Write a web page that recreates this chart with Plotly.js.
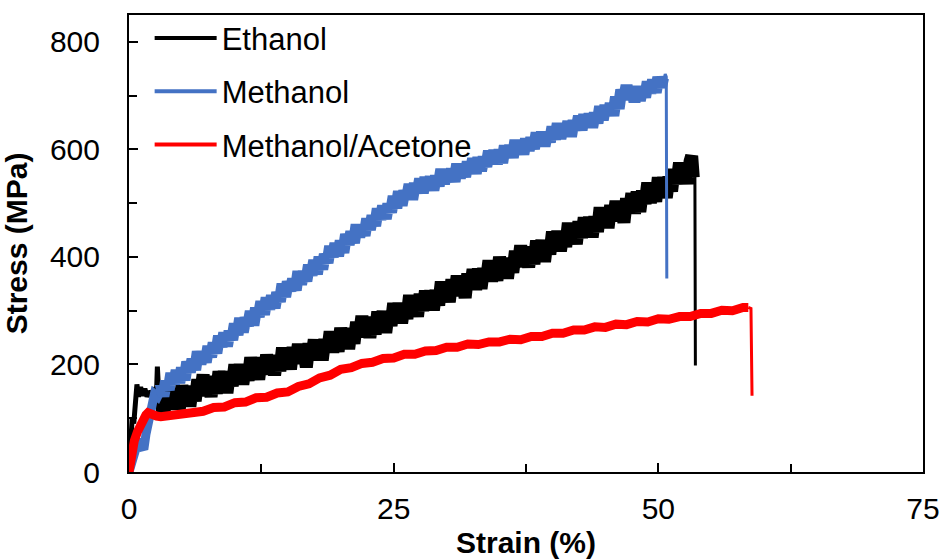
<!DOCTYPE html>
<html>
<head>
<meta charset="utf-8">
<script src="https://cdn.plot.ly/plotly-3.0.1.min.js"></script>
<style>
html,body{margin:0;padding:0;background:#fff;}
#chart{width:943px;height:560px;}
</style>
</head>
<body>
<div id="chart"></div>
<script>
// ---- Data (strain %, stress MPa) ----
var seriesNames = ["Ethanol", "Methanol", "Methanol/Acetone"];

// Ethanol: initial loading region, main noisy curve, failure drop
var ethanolInitStrain = [0,0.15,0.3,0.45,0.6,0.75,0.9,1.1,1.3,1.5,1.7,1.9,2.1,2.3,2.5,2.62,2.68,2.74,2.85,3.0];
var ethanolInitStress = [0,55,100,90,150,163,140,158,142,155,140,150,145,152,148,160,196,150,130,140];
var ethanolStrain = [3.00,3.25,3.50,3.75,4.00,4.25,4.50,4.75,5.00,5.25,5.50,5.75,6.00,6.25,6.50,6.75,7.00,7.25,7.50,7.75,
8.00,8.25,8.50,8.75,9.00,9.25,9.50,9.75,10.00,10.25,10.50,10.75,11.00,11.25,11.50,11.75,12.00,12.25,12.50,12.75,
13.00,13.25,13.50,13.75,14.00,14.25,14.50,14.75,15.00,15.25,15.50,15.75,16.00,16.25,16.50,16.75,17.00,17.25,17.50,17.75,
18.00,18.25,18.50,18.75,19.00,19.25,19.50,19.75,20.00,20.25,20.50,20.75,21.00,21.25,21.50,21.75,22.00,22.25,22.50,22.75,
23.00,23.25,23.50,23.75,24.00,24.25,24.50,24.75,25.00,25.25,25.50,25.75,26.00,26.25,26.50,26.75,27.00,27.25,27.50,27.75,
28.00,28.25,28.50,28.75,29.00,29.25,29.50,29.75,30.00,30.25,30.50,30.75,31.00,31.25,31.50,31.75,32.00,32.25,32.50,32.75,
33.00,33.25,33.50,33.75,34.00,34.25,34.50,34.75,35.00,35.25,35.50,35.75,36.00,36.25,36.50,36.75,37.00,37.25,37.50,37.75,
38.00,38.25,38.50,38.75,39.00,39.25,39.50,39.75,40.00,40.25,40.50,40.75,41.00,41.25,41.50,41.75,42.00,42.25,42.50,42.75,
43.00,43.25,43.50,43.75,44.00,44.25,44.50,44.75,45.00,45.25,45.50,45.75,46.00,46.25,46.50,46.75,47.00,47.25,47.50,47.75,
48.00,48.25,48.50,48.75,49.00,49.25,49.50,49.75,50.00,50.25,50.50,50.75,51.00,51.25,51.50,51.75,52.00,52.25,52.50,52.75,
53.00,53.15,53.30];
var ethanolStress = [140,102,140,117,155,117,145,117,161,128,160,122,160,132,172,144,181,142,172,140,
178,146,187,157,187,147,186,160,200,166,200,163,196,170,213,178,206,172,213,182,
218,186,217,180,216,188,231,198,225,191,232,202,238,202,229,195,239,212,246,208,
246,208,247,223,261,223,251,224,268,234,266,229,267,239,279,252,290,251,281,250,
288,256,298,268,299,259,298,272,314,280,314,277,311,285,329,294,322,289,331,300,
337,305,337,301,338,310,354,321,349,316,358,328,365,329,357,324,369,342,377,339,
378,341,379,355,393,355,383,356,400,366,398,360,398,371,411,383,421,382,412,381,
419,387,430,400,431,391,431,405,447,413,448,411,444,419,463,429,457,424,466,436,
473,441,474,437,475,447,492,459,488,454,496,467,504,469,497,464,509,483,518,481,
521,484,523,499,538,501,530,503,548,515,548,510,549,522,563,536,575,537,568,536,
578,588,548];
var ethanolDropStrain = [53.4, 53.45, 53.5];
var ethanolDropStress = [548, 578, 198];

// Methanol
var methanolInitStrain = [0,0.3,0.6,0.9,1.2,1.4,1.6,1.8,2.0,2.2,2.4,2.7,3.0];
var methanolInitStress = [0,25,45,60,48,42,70,95,120,130,145,140,152];
var methanolStrain = [3.00,3.25,3.50,3.75,4.00,4.25,4.50,4.75,5.00,5.25,5.50,5.75,6.00,6.25,6.50,6.75,7.00,7.25,7.50,7.75,
8.00,8.25,8.50,8.75,9.00,9.25,9.50,9.75,10.00,10.25,10.50,10.75,11.00,11.25,11.50,11.75,12.00,12.25,12.50,12.75,
13.00,13.25,13.50,13.75,14.00,14.25,14.50,14.75,15.00,15.25,15.50,15.75,16.00,16.25,16.50,16.75,17.00,17.25,17.50,17.75,
18.00,18.25,18.50,18.75,19.00,19.25,19.50,19.75,20.00,20.25,20.50,20.75,21.00,21.25,21.50,21.75,22.00,22.25,22.50,22.75,
23.00,23.25,23.50,23.75,24.00,24.25,24.50,24.75,25.00,25.25,25.50,25.75,26.00,26.25,26.50,26.75,27.00,27.25,27.50,27.75,
28.00,28.25,28.50,28.75,29.00,29.25,29.50,29.75,30.00,30.25,30.50,30.75,31.00,31.25,31.50,31.75,32.00,32.25,32.50,32.75,
33.00,33.25,33.50,33.75,34.00,34.25,34.50,34.75,35.00,35.25,35.50,35.75,36.00,36.25,36.50,36.75,37.00,37.25,37.50,37.75,
38.00,38.25,38.50,38.75,39.00,39.25,39.50,39.75,40.00,40.25,40.50,40.75,41.00,41.25,41.50,41.75,42.00,42.25,42.50,42.75,
43.00,43.25,43.50,43.75,44.00,44.25,44.50,44.75,45.00,45.25,45.50,45.75,46.00,46.25,46.50,46.75,47.00,47.25,47.50,47.75,
48.00,48.25,48.50,48.75,49.00,49.25,49.50,49.75,50.00,50.25,50.45];
var methanolStress = [164,141,169,153,184,164,189,166,194,171,205,186,210,190,224,201,223,204,234,214,
240,221,253,233,259,234,262,246,276,255,286,260,287,272,299,273,305,289,317,293,
324,303,328,305,334,317,350,326,354,337,359,338,373,349,373,355,385,366,394,368,
400,377,405,389,420,400,425,402,430,408,442,423,447,426,460,437,459,440,471,451,
477,458,490,470,495,471,499,483,513,491,522,496,523,508,535,507,537,519,545,519,
548,526,549,524,551,532,563,536,562,543,563,540,573,547,569,549,577,557,583,555,
585,560,586,568,597,575,598,573,599,575,607,585,607,585,617,592,612,591,620,598,
622,601,631,609,632,606,632,614,642,619,648,620,645,628,652,624,654,636,662,636,
665,643,666,641,668,649,680,655,682,664,685,663,698,676,711,693,719,694,717,688,
717,691,716,697,726,705,729,706,734,716,733];
var methanolDropStrain = [50.5, 50.65, 50.75, 50.8];
var methanolDropStress = [725, 740, 735, 360];

// Methanol/Acetone
var acetoneStrain = [0,0.15,0.3,0.5,0.8,1.0,1.3,1.6,1.8,2.2,2.6,3,4,5,6,7,8,9,10,11,12,13,14,15,16,17,18,19,20,21,22,23,24,25,26,27,28,29,30,31,32,33,34,35,36,37,38,39,40,41,42,43,44,45,46,47,48,49,50,51,52,53,54,55,56,57,58,58.5];
var acetoneStress = [0,20,40,58,75,85,98,106,110,106,104,103,106,105,112,113,120,121,129,130,138,139,147,149,159,164,175,180,191,194,202,204,211,212,219,219,225,226,232,232,238,237,242,242,247,246,252,252,258,258,264,264,270,269,275,274,280,279,285,284,289,289,295,295,301,300,306,306];
var acetoneDropStrain = [58.5, 58.75, 58.85];
var acetoneDropStress = [306, 304, 142];

var xTickVals = [0, 25, 50, 75];
var yTickVals = [0, 200, 400, 600, 800];

var lineColors = ["#000000", "#4472C4", "#FF0000"];

function curve(x, y, i, w) {
  return {x: x, y: y, mode: "lines", showlegend: false, legendgroup: "g" + i,
          line: {color: lineColors[i], width: w}, hoverinfo: "skip"};
}
function legendEntry(i) {
  return {x: [null], y: [null], mode: "lines", name: seriesNames[i], legendgroup: "g" + i,
          line: {color: lineColors[i], width: 4}};
}

var traces = [
  legendEntry(0), legendEntry(1), legendEntry(2),
  curve(ethanolInitStrain, ethanolInitStress, 0, 5),
  curve(ethanolStrain, ethanolStress, 0, 13),
  curve(ethanolDropStrain, ethanolDropStress, 0, 3),
  curve(methanolInitStrain, methanolInitStress, 1, 9),
  curve(methanolStrain, methanolStress, 1, 12),
  curve(methanolDropStrain, methanolDropStress, 1, 3),
  curve(acetoneStrain, acetoneStress, 2, 9),
  curve(acetoneDropStrain, acetoneDropStress, 2, 3)
];

var fontFam = "Liberation Sans, Arial, Helvetica, sans-serif";

var layout = {
  width: 943, height: 560,
  paper_bgcolor: "#ffffff", plot_bgcolor: "#ffffff",
  margin: {l: 129, r: 20, t: 14, b: 88},
  font: {family: fontFam, color: "#000"},
  showlegend: true,
  legend: {x: 0.026, y: 1.006, xanchor: "left", yanchor: "top",
    font: {family: fontFam, size: 31, color: "#000"},
    itemwidth: 62, tracegroupgap: 10, bgcolor: "rgba(0,0,0,0)", traceorder: "grouped"},
  xaxis: {
    range: [0, 75], tickvals: xTickVals, ticktext: xTickVals.map(String),
    showgrid: false, zeroline: false, showline: true, linecolor: "#000", linewidth: 2, mirror: true,
    ticks: "inside", ticklen: 9, tickwidth: 2, tickcolor: "#000",
    minor: {dtick: 12.5, tick0: 0, ticks: "inside", ticklen: 8, tickwidth: 2, tickcolor: "#000", showgrid: false},
    tickfont: {family: fontFam, size: 30, color: "#000"}, ticklabelstandoff: 9,
    title: {text: "<b>Strain (%)</b>", font: {family: fontFam, size: 30, color: "#000"}, standoff: 8}
  },
  yaxis: {
    range: [0, 850], tickvals: yTickVals, ticktext: yTickVals.map(String),
    showgrid: false, zeroline: false, showline: true, linecolor: "#000", linewidth: 2, mirror: true,
    ticks: "inside", ticklen: 9, tickwidth: 2, tickcolor: "#000",
    minor: {dtick: 100, tick0: 0, ticks: "inside", ticklen: 8, tickwidth: 2, tickcolor: "#000", showgrid: false},
    tickfont: {family: fontFam, size: 30, color: "#000"}, ticklabelstandoff: 21,
    title: {text: "<b>Stress (MPa)</b>", font: {family: fontFam, size: 30, color: "#000"}, standoff: 13}
  }
};

Plotly.newPlot("chart", traces, layout, {displayModeBar: false, staticPlot: true});
</script>
</body>
</html>
